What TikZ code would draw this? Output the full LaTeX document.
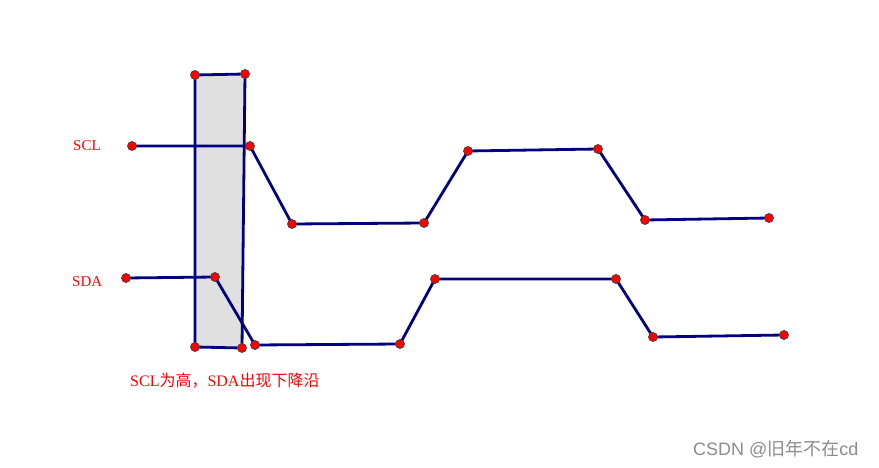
\documentclass[tikz,border=0pt]{standalone}
\usepackage{fontspec}
\setmainfont{Liberation Serif}
\newfontfamily\cjk{Noto Sans CJK SC}
\newfontfamily\marca{Liberation Sans}
\usepackage{xcolor}
\usepackage{tikz}
\definecolor{AzulLinea}{RGB}{0,0,128}
\definecolor{RojoPunto}{RGB}{255,0,0}
\definecolor{GrisZona}{RGB}{224,224,224}
\definecolor{GrisMarca}{RGB}{140,140,140}
\tikzset{
  senal/.style={line width=2.8pt,AzulLinea,line join=round},
  punto/.style={circle,fill=RojoPunto,draw=black!75,line width=0.7pt,inner sep=0pt,minimum size=9pt},
  rotulo/.style={RojoPunto,font=\fontsize{15}{17}\selectfont,inner sep=0pt}
}

\begin{document}
\begin{tikzpicture}[x=1pt,y=-1pt]
  \useasboundingbox (0,0) rectangle (879,468);
  % zona gris
  \coordinate (z1) at (195,75);
  \coordinate (z2) at (245,74);
  \coordinate (z3) at (242,348);
  \coordinate (z4) at (195,347);
  \fill[GrisZona] (z1) -- (z2) -- (z3) -- (z4) -- cycle;
  % SCL
  \coordinate (c1) at (132,146);
  \coordinate (c2) at (250,146);
  \coordinate (c3) at (292,224);
  \coordinate (c4) at (424,223);
  \coordinate (c5) at (468,151);
  \coordinate (c6) at (598,149);
  \coordinate (c7) at (645,220);
  \coordinate (c8) at (769,218);
  % SDA
  \coordinate (d1) at (126,278);
  \coordinate (d2) at (215,277);
  \coordinate (d3) at (255,345);
  \coordinate (d4) at (400,344);
  \coordinate (d5) at (435,279);
  \coordinate (d6) at (616,279);
  \coordinate (d7) at (653,337);
  \coordinate (d8) at (784,335);
  \draw[senal] (z4) -- (z1) -- (z2) -- (z3) -- (z4);
  \draw[senal] (c1) -- (c2) -- (c3) -- (c4) -- (c5) -- (c6) -- (c7) -- (c8);
  \draw[senal] (d1) -- (d2) -- (d3) -- (d4) -- (d5) -- (d6) -- (d7) -- (d8);
  \foreach \p in {z1,z2,z3,z4,c1,c2,c3,c4,c5,c6,c7,c8,d1,d2,d3,d4,d5,d6,d7,d8}
    \node[punto] at (\p) {};
  % textos
  \node[rotulo,anchor=base west] (scl) at (73,151) {SCL};
  \node[rotulo,anchor=base west] (sda) at (72,286) {SDA};
  \node[rotulo,anchor=base west,font=\fontsize{16}{18}\selectfont] (nota) at (130,386) {SCL{\cjk 为高，}SDA{\cjk 出现下降沿}};
  \node[GrisMarca,anchor=base west,inner sep=0pt,font=\marca\fontsize{18}{20}\selectfont] (marca) at (693,455) {CSDN @{\cjk 旧年不在}cd};
\end{tikzpicture}
\end{document}
